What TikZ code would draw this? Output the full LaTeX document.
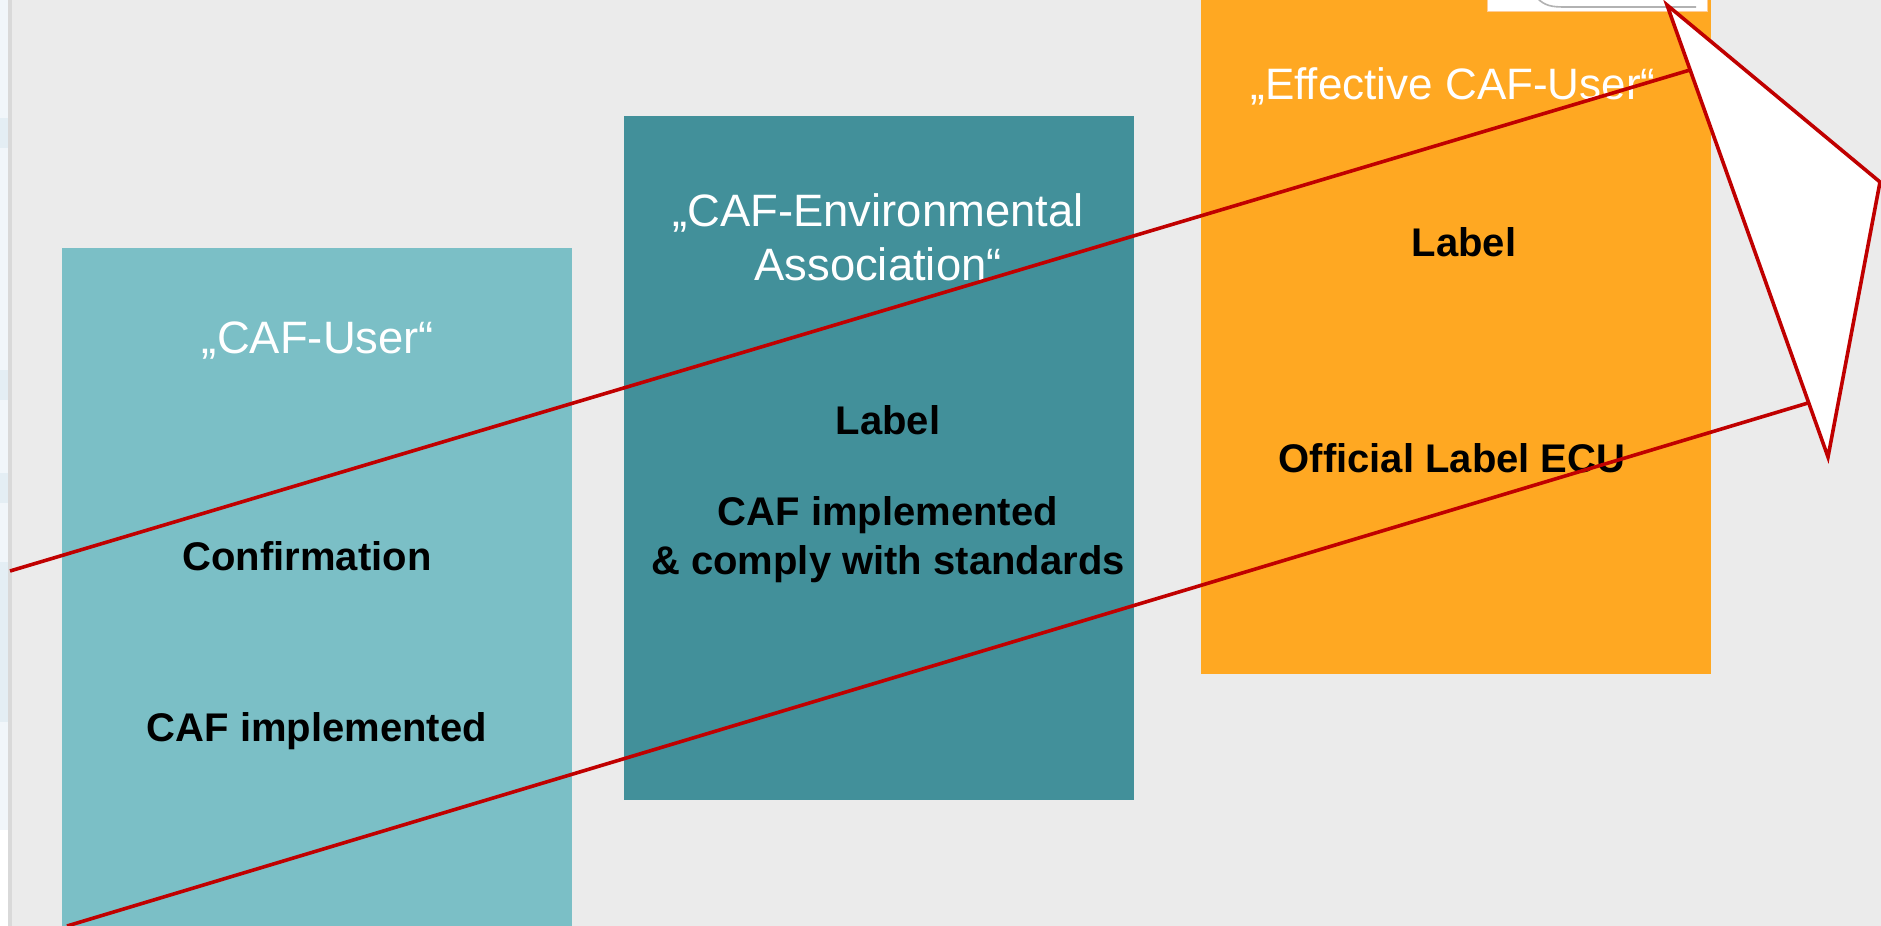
\documentclass[tikz,border=0pt]{standalone}
\usepackage{fontspec}
\setmainfont{Liberation Sans}
\definecolor{bggray}{HTML}{EBEBEB}
\definecolor{tealLight}{HTML}{7BBFC6}
\definecolor{tealDark}{HTML}{42909A}
\definecolor{orangeBox}{HTML}{FFA822}
\definecolor{arrowRed}{HTML}{C00000}
\definecolor{stripBlue}{HTML}{F1F6FA}
\definecolor{bandBlue}{HTML}{E4EEF4}

\tikzset{
  head/.style={text=white, font=\fontsize{22.7}{27}\selectfont, align=center},
  body/.style={text=black, font=\bfseries\fontsize{20}{24.5}\selectfont, align=center},
  redline/.style={draw=arrowRed, line width=1.8pt}
}

\begin{document}
\begin{tikzpicture}[x=0.5pt,y=-0.5pt]
                % Background
                \fill[bggray] (0,0) rectangle (1881,926);
                \useasboundingbox (0,0) rectangle (1881,926);
                \clip (0,0) rectangle (1881,926);

                % Left edge strip
                \fill[stripBlue] (0,0) rectangle (8,830);
                \foreach \ya/\yb in {118/148,370/400,473/503,562/722} {
                    \fill[bandBlue] (0,\ya) rectangle (8,\yb);
                }
                \fill[white] (0,830) rectangle (8,926);
                \fill[gray!30] (8,0) rectangle (12,926);

                % Stage boxes
                \fill[tealLight] (62,248) rectangle (572,940);
                \fill[tealDark] (624,116) rectangle (1134,800);
                \fill[orangeBox] (1201,-10) rectangle (1711,674);

                % Small white box at the top
                \filldraw[white, draw=orange!40] (1487,-10) rectangle (1707,11);
                \draw[gray!60, line width=0.8pt] (1537,-2) .. controls (1545,6) and (1552,7) .. (1565,7) -- (1696,7);

                % Stage 1
                \node[head] (user) at (318,341) {„CAF-User“};
                \node[body] (confirm) at (307,556) {Confirmation};
                \node[body] (impl) at (317,731) {CAF implemented};

                % Stage 2
                \node[head] (assoc) at (878,237) {„CAF-Environmental\\Association“};
                \node[body] (label) at (888,420) {Label};
                \node[body] (comply) at (888,540) {CAF implemented\\\& comply with standards};

                % Stage 3
                \node[head, font=\fontsize{22}{27}\selectfont] (effective) at (1453,86) {„Effective CAF-User“};
                \node[body] (label2) at (1464,242) {Label};
                \node[body] (official) at (1452,458) {Official Label ECU};

                % Arrow
                \coordinate (tip) at (1667,5);
                \coordinate (wing) at (1880,182);
                \coordinate (foot) at (1828,457);
                \coordinate (upStart) at (10,571);
                \coordinate (upEnd) at (1690,70);
                \coordinate (lowStart) at (67,926);
                \coordinate (lowEnd) at (1808,403);
                \draw[redline] (upStart) -- (upEnd);
                \draw[redline] (lowStart) -- (lowEnd);
                \filldraw[redline, fill=white, line join=miter] (tip) -- (wing) -- (foot) -- cycle;
\end{tikzpicture}
\end{document}
